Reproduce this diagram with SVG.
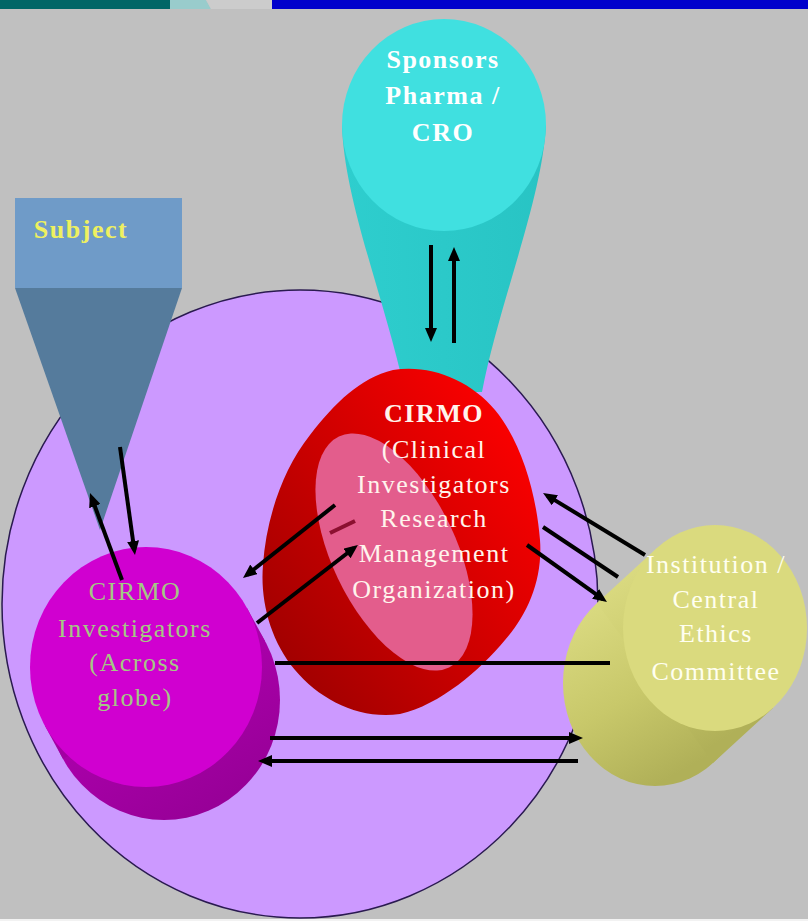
<svg xmlns="http://www.w3.org/2000/svg" width="808" height="921" viewBox="0 0 808 921">
<defs>
<style>
.lbl{font-family:"Liberation Serif","Times New Roman",serif;font-size:26px;text-anchor:middle;letter-spacing:1.5px}
.b{font-weight:bold}
.ln{stroke:#000;stroke-width:4;fill:none}
.ar{stroke:#000;stroke-width:4;fill:none;marker-end:url(#ah)}
</style>
<marker id="ah" viewBox="0 0 14 12" refX="9" refY="6" markerWidth="14" markerHeight="12" markerUnits="userSpaceOnUse" orient="auto">
<path d="M0,0 L14,6 L0,12 z" fill="#000"/>
</marker>
<linearGradient id="redG" x1="0.1" y1="0.9" x2="0.9" y2="0.2">
<stop offset="0" stop-color="#A00000"/>
<stop offset="0.45" stop-color="#C80000"/>
<stop offset="1" stop-color="#F80000"/>
</linearGradient>
<linearGradient id="magBody" x1="0" y1="0" x2="0.6" y2="1">
<stop offset="0" stop-color="#C000C0"/>
<stop offset="1" stop-color="#980098"/>
</linearGradient>
<linearGradient id="yelBody" x1="0" y1="0" x2="0.5" y2="1">
<stop offset="0" stop-color="#E0E088"/>
<stop offset="0.6" stop-color="#C8C86A"/>
<stop offset="1" stop-color="#B0B058"/>
</linearGradient>
<linearGradient id="cyanBody" x1="0" y1="0" x2="1" y2="0">
<stop offset="0" stop-color="#2ECECE"/>
<stop offset="1" stop-color="#28C4C4"/>
</linearGradient>
</defs>

<rect x="0" y="0" width="808" height="921" fill="#C0C0C0"/>
<rect x="0" y="919" width="808" height="2" fill="#F2F2F2"/>

<g id="topbar">
<rect x="0" y="0" width="170" height="9" fill="#006666"/>
<polygon points="170,0 206,0 211,9 170,9" fill="#99CCCC"/>
<polygon points="206,0 272,0 272,9 211,9" fill="#CCCCCC"/>
<rect x="272" y="0" width="536" height="9" fill="#0000CC"/>
</g>

<g id="circle">
<ellipse cx="300" cy="604" rx="298" ry="314" fill="#CC99FF" stroke="#2A1A50" stroke-width="1.5"/>
</g>

<g id="subject">
<rect x="15" y="198" width="167" height="90" fill="#6F9BC8"/>
<polygon points="15,288 182,288 100,530" fill="#557B9C"/>
<text class="lbl b" x="81" y="238" fill="#EEF060">Subject</text>
</g>

<g id="sponsors">
<path d="M342,125 C344,200 385,300 405,392 L482,392 C500,300 542,200 546,125 Z" fill="url(#cyanBody)"/>
<ellipse cx="444" cy="125" rx="102" ry="106" fill="#40E0E0"/>
<text class="lbl b" x="443" y="68" fill="#FFFFFF">Sponsors</text>
<text class="lbl b" x="443" y="104" fill="#FFFFFF">Pharma /</text>
<text class="lbl b" x="443" y="141" fill="#FFFFFF">CRO</text>
</g>

<g id="cirmo">
<path d="M393,370 C430,364 470,380 495,410 C520,440 536,490 540,540 C543,580 527,615 505,640 C480,670 440,705 400,714 C360,720 320,700 295,670 C270,640 260,600 263,565 C266,520 282,470 310,435 C335,403 360,378 393,370 Z" fill="url(#redG)"/>
<ellipse cx="0" cy="0" rx="62" ry="128" transform="translate(394,552) rotate(-25.5)" fill="#E35D8C"/>
<text class="lbl b" x="434" y="422" fill="#FFF4EC">CIRMO</text>
<text class="lbl" x="434" y="458" fill="#FFF4EC">(Clinical</text>
<text class="lbl" x="434" y="493" fill="#FFF4EC">Investigators</text>
<text class="lbl" x="434" y="527" fill="#FFF4EC">Research</text>
<text class="lbl" x="434" y="562" fill="#FFF4EC">Management</text>
<text class="lbl" x="434" y="598" fill="#FFF4EC">Organization)</text>
</g>

<g id="investigators">
<ellipse cx="164" cy="700" rx="116" ry="120" fill="url(#magBody)"/>
<polygon points="247,608 265,641 63,759 45,726" fill="url(#magBody)"/>
<ellipse cx="146" cy="667" rx="116" ry="120" fill="#D000D0"/>
<text class="lbl" x="135" y="600" fill="#A4C884">CIRMO</text>
<text class="lbl" x="135" y="637" fill="#A4C884">Investigators</text>
<text class="lbl" x="135" y="671" fill="#A4C884">(Across</text>
<text class="lbl" x="135" y="706" fill="#A4C884">globe)</text>
</g>

<g id="institution">
<ellipse cx="655" cy="683" rx="92" ry="103" fill="url(#yelBody)"/>
<polygon points="657,548 773,708 713,763 597,603" fill="url(#yelBody)"/>
<ellipse cx="715" cy="628" rx="92" ry="103" fill="#DADA7E"/>
<text class="lbl" x="716" y="573" fill="#FFFFF0">Institution /</text>
<text class="lbl" x="716" y="608" fill="#FFFFF0">Central</text>
<text class="lbl" x="716" y="642" fill="#FFFFF0">Ethics</text>
<text class="lbl" x="716" y="680" fill="#FFFFF0">Committee</text>
</g>

<g id="connectors">
<line class="ar" x1="431" y1="245" x2="431" y2="337"/>
<line class="ar" x1="454" y1="343" x2="454" y2="252"/>
<line class="ar" x1="122" y1="580" x2="91.7" y2="497.7"/>
<line class="ar" x1="120" y1="447" x2="134.3" y2="550"/>
<line class="ar" x1="335" y1="505" x2="246.9" y2="574.9"/>
<line class="ar" x1="257" y1="623" x2="354" y2="548"/>
<line x1="330" y1="533" x2="355" y2="521" stroke="#8B1030" stroke-width="4"/>
<line class="ar" x1="645" y1="555" x2="547.3" y2="495.6"/>
<line class="ln" x1="543" y1="527" x2="618" y2="577"/>
<line class="ar" x1="527" y1="545" x2="602.9" y2="599.1"/>
<line class="ln" x1="275" y1="663" x2="610" y2="663"/>
<line class="ar" x1="270" y1="738" x2="578" y2="738"/>
<line class="ar" x1="578" y1="761" x2="263" y2="761"/>
</g>
</svg>
